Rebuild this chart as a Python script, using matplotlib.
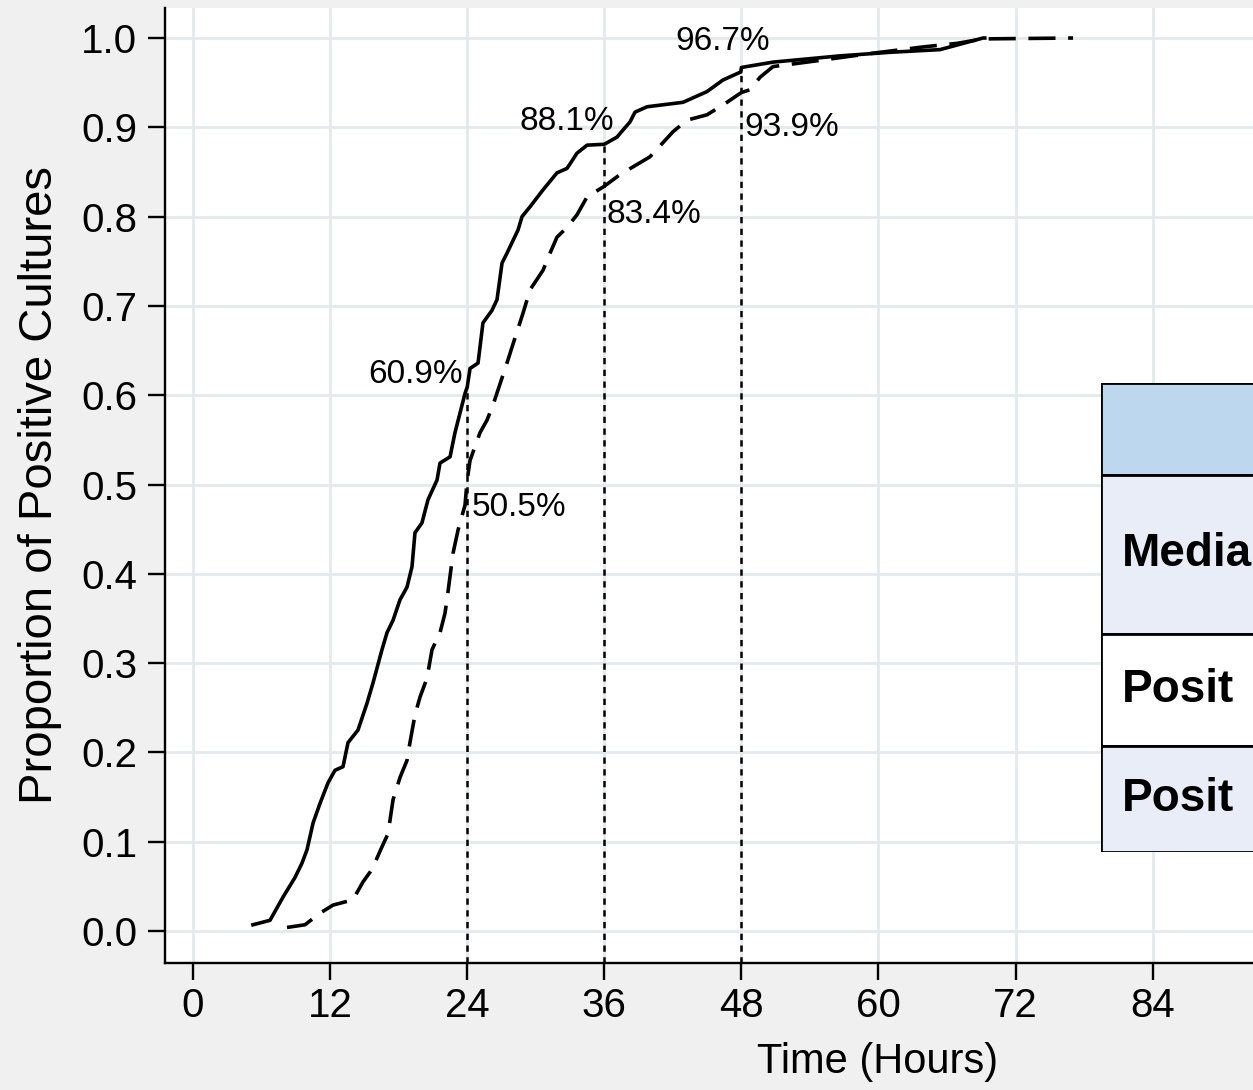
import numpy as np
import matplotlib
matplotlib.use('Agg')
import matplotlib.pyplot as plt
from matplotlib.patches import Rectangle

plt.rcParams['font.family'] = ['Liberation Sans', 'DejaVu Sans']

# solid curve (hours, proportion)
solid_t = [5.25, 6.74, 7.88, 8.93, 9.54, 9.98, 10.51, 11.12, 11.82, 12.43, 13.13, 13.57,
           14.44, 15.23, 15.76, 16.54, 16.98, 17.51, 18.12, 18.73, 19.17, 19.43, 20.04,
           20.57, 21.36, 21.62, 22.50, 22.93, 23.37, 23.81, 24.0, 24.25, 24.95, 25.38,
           26.17, 26.61, 27.05, 27.48, 28.45, 28.80, 29.50, 30.64, 31.86, 32.74, 33.61,
           34.49, 36.0, 37.11, 37.64, 38.25, 38.69, 39.74, 42.89, 44.99, 46.39, 47.95,
           48.0, 50.77, 56.63, 61.01, 65.39, 69.15, 69.3]
solid_p = [0.007, 0.012, 0.038, 0.060, 0.076, 0.091, 0.121, 0.143, 0.166, 0.180, 0.184, 0.211,
           0.225, 0.255, 0.278, 0.315, 0.334, 0.348, 0.371, 0.385, 0.408, 0.446, 0.457,
           0.483, 0.505, 0.524, 0.531, 0.558, 0.580, 0.602, 0.609, 0.630, 0.636, 0.681,
           0.695, 0.707, 0.748, 0.759, 0.785, 0.800, 0.811, 0.830, 0.849, 0.854, 0.871,
           0.880, 0.881, 0.889, 0.897, 0.906, 0.917, 0.923, 0.928, 0.940, 0.953, 0.962,
           0.967, 0.973, 0.980, 0.984, 0.987, 1.0, 1.0]

# dashed curve
dash_t = [8.23, 9.80, 11.12, 12.25, 14.00, 14.88, 15.67, 16.46, 17.07, 17.51, 18.12, 18.73,
          18.99, 19.43, 19.87, 20.48, 20.92, 21.62, 22.06, 22.23, 22.76, 23.20, 23.81,
          24.0, 24.25, 25.12, 25.73, 26.26, 26.70, 27.48, 28.18, 28.89, 29.50, 30.64,
          31.25, 31.86, 32.74, 33.61, 34.49, 36.0, 37.37, 40.00, 42.01, 43.24, 44.99,
          46.74, 48.0, 48.75, 49.63, 50.77, 53.74, 59.52, 63.90, 66.87, 69.15, 77.03]
dash_p = [0.004, 0.007, 0.020, 0.029, 0.035, 0.055, 0.069, 0.092, 0.109, 0.147, 0.172, 0.191,
          0.211, 0.242, 0.262, 0.283, 0.315, 0.334, 0.356, 0.371, 0.423, 0.449, 0.477,
          0.505, 0.527, 0.558, 0.572, 0.589, 0.606, 0.636, 0.664, 0.692, 0.718, 0.740,
          0.759, 0.777, 0.788, 0.802, 0.822, 0.834, 0.847, 0.867, 0.895, 0.908, 0.914,
          0.928, 0.939, 0.942, 0.956, 0.968, 0.973, 0.983, 0.990, 0.994, 0.999, 1.0]

# reference times and the values marked on them
mark_t = [24, 36, 48]
mark_solid = [0.609, 0.881, 0.967]
mark_dash = [0.505, 0.834, 0.939]

xticks = [0, 12, 24, 36, 48, 60, 72, 84]
yticks = [0.0, 0.1, 0.2, 0.3, 0.4, 0.5, 0.6, 0.7, 0.8, 0.9, 1.0]

# table at the right, only the start of each row label is visible in the crop
table_rows = ['', 'Media', 'Posit', 'Posit']
row_fill = ['#bdd7ee', '#e9edf7', '#ffffff', '#e9edf7']

W, H = 1253, 1090
fig = plt.figure(figsize=(W / 100, H / 100), dpi=100)
fig.patch.set_facecolor('#f0f0f0')

ax = fig.add_axes([165 / W, (H - 963) / H, (1318 - 165) / W, (963 - 8) / H])
ax.set_facecolor('white')
ax.set_xlim(-2.45, 98.47)
ax.set_ylim(-0.0358, 1.0336)

ax.set_xticks(xticks)
ax.set_yticks(yticks)
ax.set_yticklabels([f'{v:.1f}' for v in yticks])
ax.grid(True, color='#e3e9ed', linewidth=2.0, zorder=0)
ax.set_axisbelow(True)

for s in ['top', 'right']:
    ax.spines[s].set_visible(False)
for s in ['left', 'bottom']:
    ax.spines[s].set_linewidth(1.7)
ax.tick_params(axis='both', direction='out', length=12, width=1.7, labelsize=29)
ax.tick_params(axis='y', pad=8)
ax.tick_params(axis='x', pad=5)

ax.plot(solid_t, solid_p, color='black', linewidth=2.6, zorder=3)
ax.plot(dash_t, dash_p, color='black', linewidth=2.6, dashes=(7.5, 3.5), zorder=3)

for t, v in zip(mark_t, mark_solid):
    ax.plot([t, t], [-0.0358, v], color='black', linewidth=1.8,
            linestyle=(0, (2.5, 2.2)), zorder=2)

ax.text(23.6, 0.623, f'{mark_solid[0] * 100:.1f}%', ha='right', va='center', fontsize=24)
ax.text(24.4, 0.474, f'{mark_dash[0] * 100:.1f}%', ha='left', va='center', fontsize=24)
ax.text(32.7, 0.906, f'{mark_solid[1] * 100:.1f}%', ha='center', va='center', fontsize=24)
ax.text(36.2, 0.802, f'{mark_dash[1] * 100:.1f}%', ha='left', va='center', fontsize=24)
ax.text(46.4, 0.996, f'{mark_solid[2] * 100:.1f}%', ha='center', va='center', fontsize=24)
ax.text(48.3, 0.900, f'{mark_dash[2] * 100:.1f}%', ha='left', va='center', fontsize=24)

ax.set_ylabel('Proportion of Positive Cultures', fontsize=34)
ax.yaxis.set_label_coords((40 - 165) / (1318 - 165), 0.5)
ax.set_xlabel('Time (Hours)', fontsize=30)
ax.xaxis.set_label_coords((878 - 165) / (1318 - 165), -(1062 - 963) / (963 - 8))
ax.xaxis.label.set_va('center')
ax.yaxis.label.set_va('center')

tab = fig.add_axes([1101 / W, (H - 852) / H, (1500 - 1101) / W, (852 - 383) / H])
tab.set_xlim(1101, 1500)
tab.set_ylim(852, 383)
tab.axis('off')
edges = [383, 475, 634, 746, 852]
for i, label in enumerate(table_rows):
    y0, y1 = edges[i], edges[i + 1]
    tab.add_patch(Rectangle((1101, y0), 399, y1 - y0, facecolor=row_fill[i],
                            edgecolor='black', linewidth=2.0))
    if label:
        tab.text(1122, (y0 + y1) / 2, label, ha='left', va='center', fontsize=33,
                 fontweight='bold', clip_on=True)

fig.savefig('out.png', dpi=100, facecolor=fig.get_facecolor())
